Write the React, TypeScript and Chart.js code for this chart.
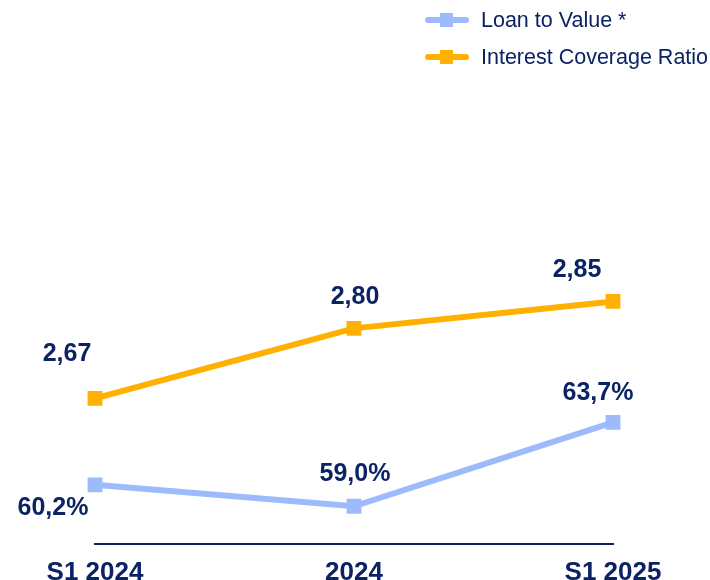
import React, { useEffect, useRef } from "react";
import { Chart, registerables } from "chart.js";

Chart.register(...registerables);

const categories = ["S1 2024", "2024", "S1 2025"];
const loanToValue = [60.2, 59.0, 63.7];
const interestCoverage = [2.67, 2.8, 2.85];
const seriesNames = ["Loan to Value *", "Interest Coverage Ratio"];

const NAVY = "#0B2265";
const BLUE = "#9DBBFC";
const ORANGE = "#FFB000";
const FONT = "'Liberation Sans', Arial, sans-serif";

// label offsets relative to each point (layout only)
const ltvLabelOffsets = [
  [-42, 23],
  [1, -32],
  [-15, -29],
];
const icrLabelOffsets = [
  [-28, -44],
  [1, -31],
  [-36, -31],
];

const fmtLtv = (v: number) => v.toFixed(1).replace(".", ",") + "%";
const fmtIcr = (v: number) => v.toFixed(2).replace(".", ",");

const valueLabelPlugin = {
  id: "valueLabels",
  afterDatasetsDraw(chart: any) {
    const ctx = chart.ctx;
    ctx.save();
    ctx.font = `bold 25px ${FONT}`;
    ctx.fillStyle = NAVY;
    ctx.textAlign = "center";
    ctx.textBaseline = "middle";
    chart.data.datasets.forEach((ds: any, i: number) => {
      const meta = chart.getDatasetMeta(i);
      const offs = i === 0 ? ltvLabelOffsets : icrLabelOffsets;
      const fmt = i === 0 ? fmtLtv : fmtIcr;
      meta.data.forEach((pt: any, j: number) => {
        ctx.fillText(fmt(ds.data[j]), pt.x + offs[j][0], pt.y + offs[j][1]);
      });
    });
    ctx.restore();
  },
};

const legendPlugin = {
  id: "customLegend",
  afterDraw(chart: any) {
    const ctx = chart.ctx;
    ctx.save();
    const rows = [20, 57];
    chart.data.datasets.forEach((ds: any, i: number) => {
      const y = rows[i];
      ctx.strokeStyle = ds.borderColor;
      ctx.lineWidth = 6;
      ctx.lineCap = "round";
      ctx.beginPath();
      ctx.moveTo(428, y);
      ctx.lineTo(466, y);
      ctx.stroke();
      ctx.fillStyle = ds.borderColor;
      ctx.fillRect(440, y - 7, 13, 14);
      ctx.fillStyle = NAVY;
      ctx.font = `21.5px ${FONT}`;
      ctx.textAlign = "left";
      ctx.textBaseline = "middle";
      ctx.fillText(ds.label, 481, y + 1);
    });
    ctx.restore();
  },
};

export default function App() {
  const ref = useRef<HTMLCanvasElement>(null);
  useEffect(() => {
    if (!ref.current) return;
    const chart = new Chart(ref.current, {
      type: "line",
      data: {
        labels: categories,
        datasets: [
          {
            label: seriesNames[0],
            data: loanToValue,
            borderColor: BLUE,
            backgroundColor: BLUE,
            borderWidth: 6,
            pointStyle: "rect",
            pointRadius: 10.5,
            pointHoverRadius: 10.5,
            pointBorderWidth: 0,
            pointBackgroundColor: BLUE,
            tension: 0,
            yAxisID: "y1",
          },
          {
            label: seriesNames[1],
            data: interestCoverage,
            borderColor: ORANGE,
            backgroundColor: ORANGE,
            borderWidth: 6,
            pointStyle: "rect",
            pointRadius: 10.5,
            pointHoverRadius: 10.5,
            pointBorderWidth: 0,
            pointBackgroundColor: ORANGE,
            tension: 0,
            yAxisID: "y2",
          },
        ],
      },
      options: {
        responsive: false,
        maintainAspectRatio: false,
        animation: false,
        layout: { padding: { left: 95, right: 97, top: 24, bottom: 0 } },
        plugins: {
          legend: { display: false },
          tooltip: { enabled: false },
        },
        scales: {
          x: {
            type: "category",
            offset: false,
            grid: { display: false, drawTicks: false },
            border: { display: true, color: "#0B2265", width: 2 },
            ticks: {
              color: NAVY,
              font: { family: FONT, size: 26, weight: "bold" },
              padding: 13,
              maxRotation: 0,
              autoSkip: false,
            },
          },
          y1: {
            type: "linear",
            display: false,
            min: 56.9,
            max: 86,
          },
          y2: {
            type: "linear",
            display: false,
            min: 2.4,
            max: 3.365,
          },
        },
      },
      plugins: [valueLabelPlugin, legendPlugin],
    });
    return () => chart.destroy();
  }, []);
  return (
    <div style={{ position: "fixed", left: 0, top: 0, width: 710, height: 580, overflow: "hidden" }}>
      <canvas ref={ref} width={710} height={601} style={{ display: "block", width: 710, height: 601 }} />
    </div>
  );
}
